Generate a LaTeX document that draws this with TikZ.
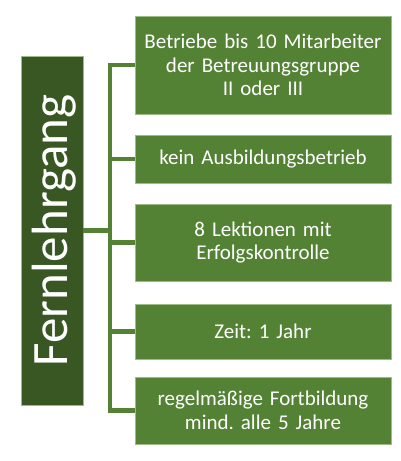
\documentclass[tikz,border=0pt]{standalone}
\usepackage{fontspec}
\setmainfont{Carlito}
\frenchspacing
\definecolor{darkgreen}{HTML}{385723}
\definecolor{midgreen}{HTML}{548235}
\definecolor{edgegreen}{HTML}{9DBB86}
\begin{document}
\begin{tikzpicture}[x=1pt,y=-1pt,
  itembox/.style={fill=midgreen, draw=edgegreen, line width=0.6pt, inner sep=0pt,
    minimum width=256pt, text width=250pt, align=center, text=white,
    font=\fontsize{21}{23.5}\selectfont},
  mainbox/.style={fill=darkgreen, draw=edgegreen, line width=0.6pt, inner sep=0pt,
    minimum width=62pt, minimum height=349pt},
  link/.style={draw=midgreen, line width=4.5pt}]
\useasboundingbox (0,0) rectangle (400,461);
\node[mainbox] (main) at (52,230.5) {};
\node[text=white, rotate=90, font=\fontsize{51}{56}\selectfont] (title) at (54,230.5) {Fernlehrgang};
\node[itembox, minimum height=98pt] (b1) at (263,65) {Betriebe bis 10 Mitarbeiter\\der Betreuungsgruppe\\II oder III};
\node[itembox, minimum height=48pt] (b2) at (263,159) {kein Ausbildungsbetrieb};
\node[itembox, minimum height=77pt] (b3) at (263,242.5) {8 Lektionen mit\\Erfolgskontrolle};
\node[itembox, minimum height=55pt] (b4) at (263,331.5) {Zeit: 1 Jahr};
\node[itembox, minimum height=67pt] (b5) at (263,410.5) {regelmäßige Fortbildung\\mind. alle 5 Jahre};
\coordinate (jt) at (110,65);
\coordinate (jb) at (110,410.5);
\draw[link] (main.east) -- (main.east -| jt);
\draw[link, line cap=rect] (jt) -- (jb);
\foreach \b in {b1,b2,b3,b4,b5} {
  \draw[link] (\b.west -| jt) -- (\b.west);
}
\end{tikzpicture}
\end{document}
